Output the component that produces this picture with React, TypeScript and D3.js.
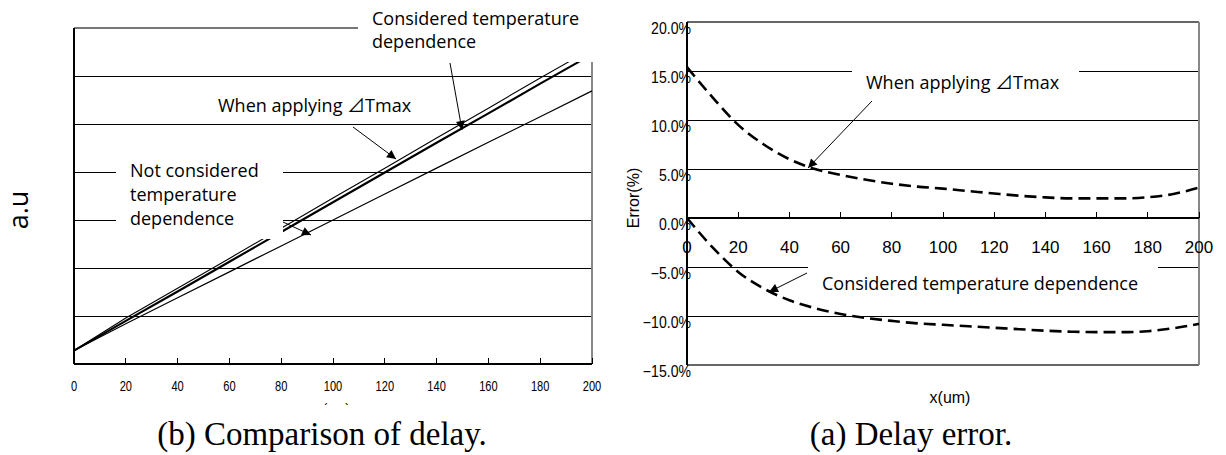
import React from 'react';
import * as d3 from 'd3';

// ---------- Data ----------
const delayX = [0, 20, 40, 60, 80, 100, 120, 140, 160, 180, 200];
const notConsidered = [0.28, 0.84, 1.38, 1.92, 2.46, 3.0, 3.54, 4.08, 4.62, 5.15, 5.69];
const considered = [0.28, 0.9, 1.51, 2.13, 2.75, 3.37, 3.99, 4.61, 5.22, 5.84, 6.45];
const applyingTmax = [0.28, 0.96, 1.58, 2.2, 2.83, 3.46, 4.08, 4.71, 5.33, 5.96, 6.57];
const delayGrid = [1, 2, 3, 4, 5, 6];

const errX = [0, 10, 20, 30, 40, 50, 60, 70, 80, 90, 100, 110, 120, 130, 140, 150, 160, 170, 180, 190, 200];
const errTmax = [15.4, 12.3, 9.5, 7.5, 6.0, 5.0, 4.4, 3.9, 3.5, 3.2, 3.0, 2.75, 2.5, 2.27, 2.1, 2.0, 2.0, 2.0, 2.12, 2.45, 3.1];
const errConsidered = [0, -3.0, -5.5, -7.2, -8.4, -9.2, -9.8, -10.2, -10.5, -10.75, -10.9, -11.05, -11.2, -11.35, -11.5, -11.6, -11.65, -11.65, -11.55, -11.25, -10.8];

const xTicks = [0, 20, 40, 60, 80, 100, 120, 140, 160, 180, 200];
const errTicks = [20, 15, 10, 5, 0, -5, -10, -15];

const annoFont = "'Open Sans', 'DejaVu Sans', sans-serif";
const cjkFont = "'Noto Sans CJK JP', 'Open Sans', sans-serif";
const tickFont = "'Liberation Sans', Arial, sans-serif";
const serif = "'Liberation Serif', 'Times New Roman', serif";

function Tmax({ x, y }: { x: number; y: number }) {
  return (
    <text x={x} y={y} fontFamily={annoFont} fontSize={18} fill="#000">
      When applying <tspan fontFamily={cjkFont}>⊿</tspan>Tmax
    </text>
  );
}

export default function App() {
  const lx = d3.scaleLinear().domain([0, 200]).range([74, 592]);
  const ly = d3.scaleLinear().domain([0, 7]).range([364, 28]);
  const rx = d3.scaleLinear().domain([0, 200]).range([687, 1199]);
  const ry = d3.scaleLinear().domain([-15, 20]).range([365, 22]);

  const leftLine = d3.line<number>().x((_, i) => lx(delayX[i])).y((d) => ly(d));
  const rightLine = d3
    .line<number>()
    .x((_, i) => rx(errX[i]))
    .y((d) => ry(d))
    .curve(d3.curveMonotoneX);

  return (
    <svg width={1226} height={455} style={{ position: 'absolute', left: 0, top: 0, background: '#fff' }}>
      <defs>
        <marker id="ah" viewBox="0 0 10 10" refX="10" refY="5" markerWidth="11" markerHeight="9"
          orient="auto" markerUnits="userSpaceOnUse">
          <path d="M0,0 L10,5 L0,10 z" fill="#000" />
        </marker>
      </defs>
      <rect x={0} y={0} width={1226} height={455} fill="#fff" />

      {/* ================= LEFT CHART ================= */}
      <g shapeRendering="crispEdges">
        {delayGrid.map((v) => (
          <line key={v} x1={lx(0)} x2={lx(200)} y1={ly(v)} y2={ly(v)} stroke="#000" strokeWidth={1} />
        ))}
        <line x1={lx(0)} x2={lx(200)} y1={ly(7)} y2={ly(7)} stroke="#777" strokeWidth={1.5} />
        <line x1={lx(200)} x2={lx(200)} y1={ly(7)} y2={ly(0)} stroke="#888" strokeWidth={1.5} />
      </g>
      {/* series */}
      <path d={leftLine(notConsidered) || ''} fill="none" stroke="#000" strokeWidth={1.2} />
      <path d={leftLine(considered) || ''} fill="none" stroke="#000" strokeWidth={2.1} />
      <path d={leftLine(applyingTmax) || ''} fill="none" stroke="#000" strokeWidth={1.1} />
      {/* axes */}
      <g shapeRendering="crispEdges">
        <line x1={lx(0)} x2={lx(0)} y1={ly(7)} y2={ly(0)} stroke="#000" strokeWidth={1.5} />
        <line x1={lx(0)} x2={lx(200)} y1={ly(0)} y2={ly(0)} stroke="#000" strokeWidth={1.5} />
        {xTicks.map((t) => (
          <line key={t} x1={lx(t)} x2={lx(t)} y1={ly(0)} y2={ly(0) - 6} stroke="#000" strokeWidth={1} />
        ))}
      </g>
      {xTicks.map((t) => (
        <text key={t} transform={`translate(${lx(t)},391) scale(0.74,1)`} textAnchor="middle"
          fontFamily={tickFont} fontSize={15} fill="#000">{t}</text>
      ))}
      {/* partially hidden x title */}
      <text x={lx(100)} y={412} textAnchor="middle" fontFamily={tickFont} fontSize={13} fill="#000">x(um)</text>
      <rect x={0} y={405} width={610} height={50} fill="#fff" />

      {/* label boxes */}
      <rect x={358} y={0} width={245} height={62} fill="#fff" />
      <rect x={116} y={150} width={167} height={89} fill="#fff" />

      {/* annotations */}
      <text x={372} y={25} fontFamily={annoFont} fontSize={18} fill="#000">Considered temperature</text>
      <text x={372} y={48} fontFamily={annoFont} fontSize={18} fill="#000">dependence</text>
      <line x1={450} y1={63} x2={462} y2={130} stroke="#000" strokeWidth={1} markerEnd="url(#ah)" />

      <Tmax x={218} y={112} />
      <line x1={353} y1={127} x2={396} y2={159} stroke="#000" strokeWidth={1} markerEnd="url(#ah)" />

      <text x={130} y={177} fontFamily={annoFont} fontSize={18} fill="#000">Not considered</text>
      <text x={130} y={201} fontFamily={annoFont} fontSize={18} fill="#000">temperature</text>
      <text x={130} y={225} fontFamily={annoFont} fontSize={18} fill="#000">dependence</text>
      <line x1={283} y1={222} x2={311} y2={235} stroke="#000" strokeWidth={1} markerEnd="url(#ah)" />

      <text transform="translate(28,210) rotate(-90)" textAnchor="middle" fontFamily={annoFont}
        fontSize={27} fill="#000">a.u</text>

      <text x={322} y={445} textAnchor="middle" fontFamily={serif} fontSize={33} fill="#000">
        (b) Comparison of delay.
      </text>

      {/* ================= RIGHT CHART ================= */}
      <g shapeRendering="crispEdges">
        {errTicks.map((v) => (
          <line key={v} x1={rx(0)} x2={rx(200)} y1={ry(v)} y2={ry(v)}
            stroke={v === 20 || v === -15 ? '#666' : '#000'} strokeWidth={v === 20 || v === -15 ? 1.5 : 1} />
        ))}
        <line x1={rx(200)} x2={rx(200)} y1={ry(20)} y2={ry(-15)} stroke="#888" strokeWidth={1.5} />
      </g>

      {/* label boxes */}
      <rect x={852} y={60} width={227} height={40} fill="#fff" />
      <rect x={808} y={262} width={350} height={31} fill="#fff" />

      {/* series */}
      <path d={rightLine(errTmax) || ''} fill="none" stroke="#000" strokeWidth={2.6} strokeDasharray="12 6" />
      <path d={rightLine(errConsidered) || ''} fill="none" stroke="#000" strokeWidth={2.6} strokeDasharray="12 6" />

      {/* axes */}
      <g shapeRendering="crispEdges">
        <line x1={rx(0)} x2={rx(0)} y1={ry(20)} y2={ry(-15)} stroke="#000" strokeWidth={1.5} />
        <line x1={rx(0)} x2={rx(200)} y1={ry(0)} y2={ry(0)} stroke="#000" strokeWidth={1.5} />
        {xTicks.map((t) => (
          <line key={t} x1={rx(t)} x2={rx(t)} y1={ry(0)} y2={ry(0) - 6} stroke="#000" strokeWidth={1} />
        ))}
      </g>
      {xTicks.map((t) => (
        <text key={t} x={rx(t)} y={ry(0) + 35} textAnchor="middle" fontFamily={tickFont} fontSize={17}
          fill="#000">{t}</text>
      ))}
      {errTicks.map((v) => (
        <text key={v} transform={`translate(${rx(0) + 4},${ry(v) + 12}) scale(0.88,1)`} textAnchor="end"
          fontFamily={tickFont} fontSize={16} fill="#000">
          {(v < 0 ? '\u2212' : '') + Math.abs(v).toFixed(1) + '%'}
        </text>
      ))}

      {/* annotations */}
      <Tmax x={866} y={89} />
      <line x1={872} y1={101} x2={808} y2={168} stroke="#000" strokeWidth={1} markerEnd="url(#ah)" />
      <text x={822} y={290} fontFamily={annoFont} fontSize={18} fill="#000">Considered temperature dependence</text>
      <line x1={807} y1={273} x2={769} y2={292} stroke="#000" strokeWidth={1} markerEnd="url(#ah)" />

      <text transform="translate(639,198) rotate(-90)" textAnchor="middle" fontFamily={tickFont}
        fontSize={16} fill="#000">Error(%)</text>
      <text x={950} y={403} textAnchor="middle" fontFamily={tickFont} fontSize={16} fill="#000">x(um)</text>

      <text x={911} y={445} textAnchor="middle" fontFamily={serif} fontSize={33} fill="#000">
        (a) Delay error.
      </text>
    </svg>
  );
}
